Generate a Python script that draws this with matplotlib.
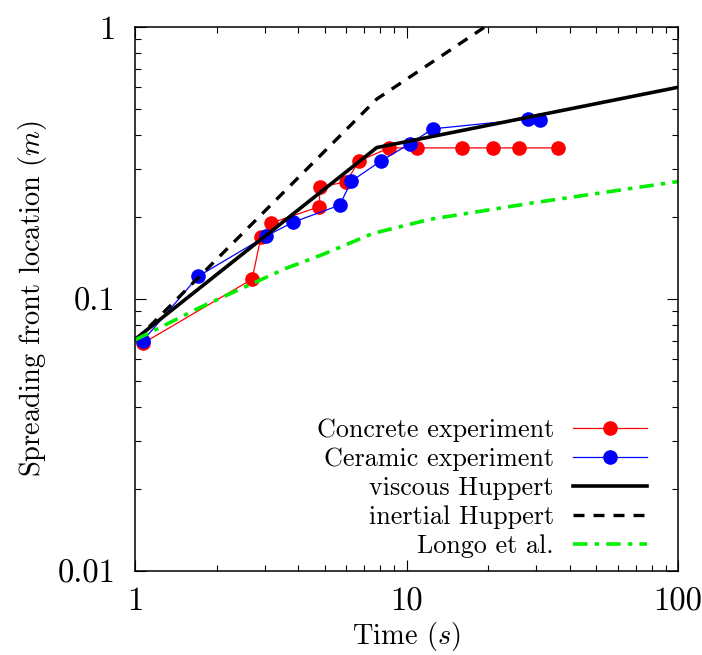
import matplotlib
matplotlib.use("Agg")
import matplotlib.pyplot as plt
from matplotlib.ticker import LogLocator, FuncFormatter, NullFormatter

plt.rcParams['font.family'] = 'serif'
plt.rcParams['font.serif'] = ['cmr10']
plt.rcParams['mathtext.fontset'] = 'cm'
plt.rcParams['axes.formatter.use_mathtext'] = True
plt.rcParams['axes.unicode_minus'] = False

# Concrete experiment
conc_t = [1.07, 2.70, 2.91, 3.18, 4.77, 4.80, 5.99, 6.68, 8.62, 10.9, 16.0, 20.9, 26.0, 36.0]
conc_x = [0.0686, 0.118, 0.169, 0.190, 0.218, 0.258, 0.269, 0.321, 0.359, 0.359, 0.359, 0.359, 0.359, 0.359]

# Ceramic experiment
cer_t = [1.07, 1.71, 3.04, 3.81, 5.67, 6.27, 8.03, 10.3, 12.5, 28.1, 30.9]
cer_x = [0.0701, 0.121, 0.170, 0.191, 0.221, 0.271, 0.321, 0.372, 0.422, 0.458, 0.455]

# model curves
visc_t = [1, 7.77, 100]
visc_x = [0.0709, 0.360, 0.600]
inert_t = [1, 7.77, 100]
inert_x = [0.0699, 0.543, 2.98]
longo_t = [1, 1.76, 3.57, 4.87, 7.53, 12.2, 28.5, 100]
longo_x = [0.0705, 0.0935, 0.129, 0.145, 0.174, 0.196, 0.2245, 0.270]

fig = plt.figure(figsize=(7.02, 6.55), dpi=100)
ax = fig.add_axes([135 / 702, 1 - 570.5 / 655, 543 / 702, 543.5 / 655])

ax.plot(conc_t, conc_x, color='red', lw=0.9, marker='o', ms=9.5,
        label='Concrete experiment')
ax.plot(cer_t, cer_x, color='blue', lw=0.9, marker='o', ms=9.5,
        label='Ceramic experiment')
ax.plot(visc_t, visc_x, color='black', lw=2.6, label='viscous Huppert')
ax.plot(inert_t, inert_x, color='black', lw=2.4, linestyle=(0, (3.3, 2.7)),
        label='inertial Huppert')
ax.plot(longo_t, longo_x, color='#00ee00', lw=2.6,
        linestyle=(0, (4.0, 2.0, 1.2, 2.0)), label='Longo et al.')

ax.set_xscale('log')
ax.set_yscale('log')
ax.set_xlim(1, 100)
ax.set_ylim(0.01, 1)

fmt = FuncFormatter(lambda v, _: f'{v:g}')
for axis in (ax.xaxis, ax.yaxis):
    axis.set_major_locator(LogLocator(base=10))
    axis.set_minor_locator(LogLocator(base=10, subs=range(2, 10)))
    axis.set_major_formatter(fmt)
    axis.set_minor_formatter(NullFormatter())

ax.tick_params(which='both', direction='in', top=True, right=True, width=0.8)
ax.tick_params(which='major', length=8, labelsize=23.5)
ax.tick_params(axis='x', which='major', pad=12)
ax.tick_params(axis='y', which='major', pad=14)
ax.tick_params(which='minor', length=4.3)
for sp in ax.spines.values():
    sp.set_linewidth(1.1)

ax.set_xlabel('Time ($s$)', fontsize=20.5, labelpad=3)
ax.set_ylabel('Spreading front location ($m$)', fontsize=20.5, labelpad=6)

ax.legend(loc='lower right', bbox_to_anchor=(647 / 702, 1 - 558 / 655),
          bbox_transform=fig.transFigure, frameon=False, markerfirst=False,
          fontsize=18.8, handlelength=2.85, handletextpad=0.72,
          labelspacing=0.2, borderpad=0, borderaxespad=0)

fig.savefig('out.png', dpi=100)
